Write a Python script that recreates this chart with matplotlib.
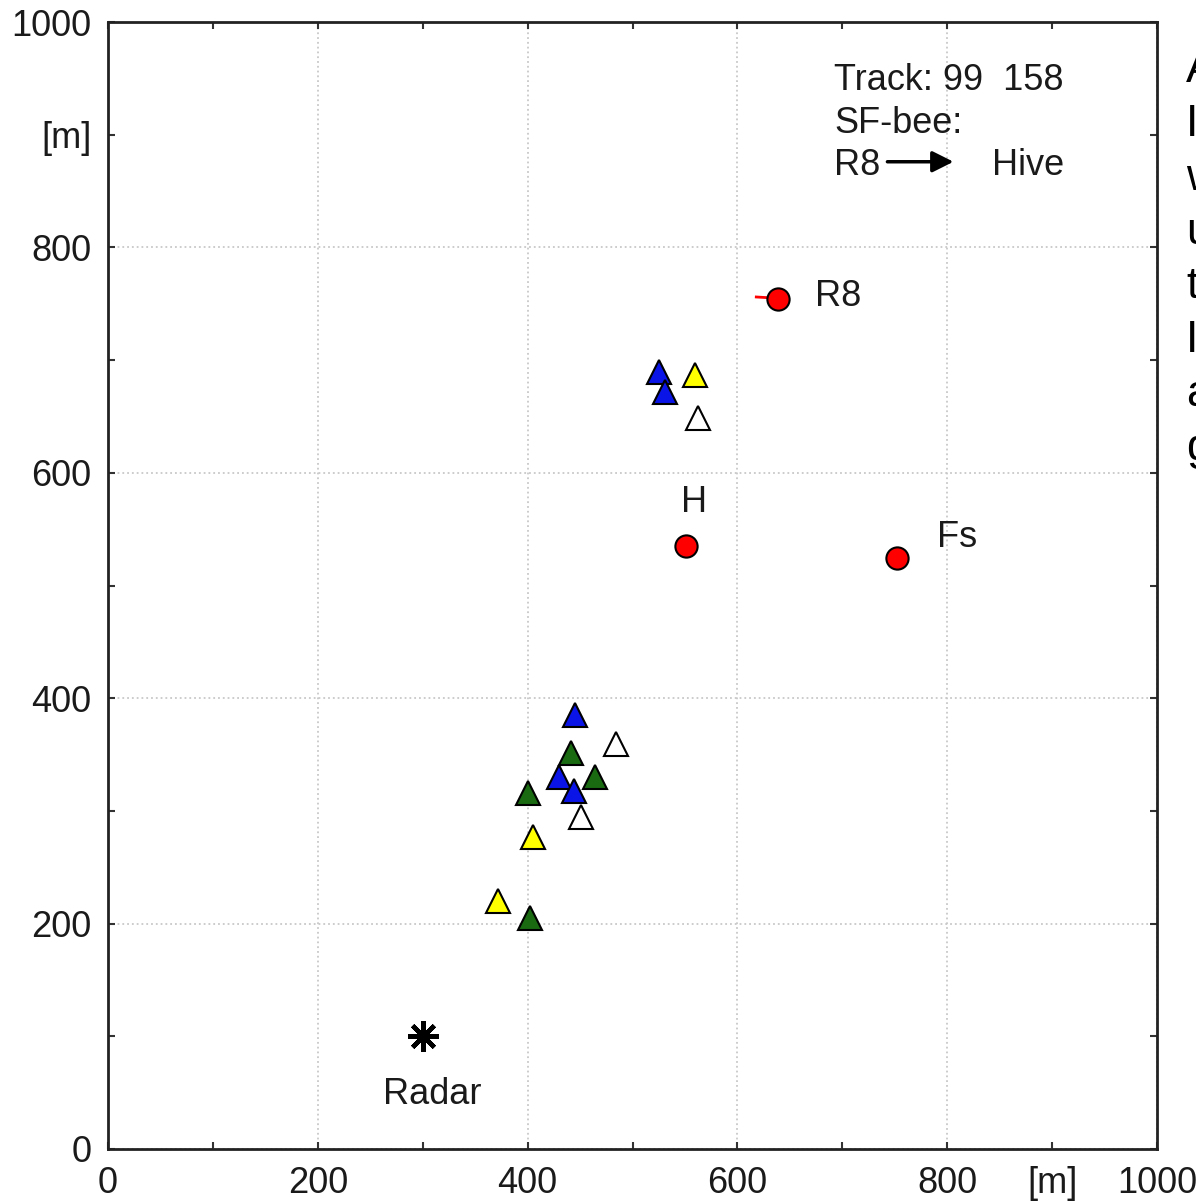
import matplotlib
matplotlib.use("Agg")
import matplotlib.pyplot as plt
from matplotlib.ticker import FixedLocator, FuncFormatter

plt.rcParams['font.family'] = ['Liberation Sans', 'DejaVu Sans']

# ---- data (metres) ----
blue_x = [525, 531, 445, 430, 444]
blue_y = [689, 672, 385, 330, 318]
green_x = [441, 464, 400, 402]
green_y = [351, 330, 316, 205]
yellow_x = [560, 405, 372]
yellow_y = [687, 277, 220]
white_x = [562, 484, 451]
white_y = [649, 359, 295]

site_names = ["R8", "H", "Fs"]
site_x = [639, 551, 752]
site_y = [754, 535, 524]

track_x = [618, 636]
track_y = [756, 755]

radar_x = [300]
radar_y = [100]

major_ticks = [0, 200, 400, 600, 800, 1000]
minor_ticks = [100, 300, 500, 700, 900]
unit_label = "[m]"

right_letters = ["A", "I", "w", "u", "t", "I", "a", "g"]

TXT = '#1a1a1a'
FS = 26

fig = plt.figure(figsize=(11.96, 12.04), dpi=100)
ax = fig.add_axes([108/1196, 1 - 1149/1204, (1157-108)/1196, (1149-22)/1204])

ax.set_xlim(0, 1000)
ax.set_ylim(0, 1000)

for axis in (ax.xaxis, ax.yaxis):
    axis.set_major_locator(FixedLocator(major_ticks))
    axis.set_minor_locator(FixedLocator(minor_ticks))
    axis.set_minor_formatter(FuncFormatter(lambda v, p: unit_label if abs(v - 900) < 1 else ''))

ax.tick_params(which='both', direction='in', top=True, right=True,
               length=5, width=1.5, color='#333333',
               labelsize=FS, labelcolor=TXT, pad=12)
for s in ax.spines.values():
    s.set_linewidth(2)
    s.set_color('#222222')

ax.grid(True, which='major', linestyle=':', color='#c8c8c8', linewidth=1.3)
ax.set_axisbelow(True)

# track segment
ax.plot(track_x, track_y, color='red', lw=2, zorder=3)

tri_kw = dict(marker='^', linestyle='none', markersize=17, markeredgecolor='black',
              markeredgewidth=1.5, zorder=4)
ax.plot(green_x, green_y, markerfacecolor='#1a6a12', **tri_kw)
ax.plot(blue_x, blue_y, markerfacecolor='#0a14e6', **tri_kw)
ax.plot(yellow_x, yellow_y, markerfacecolor='#ffff00', **tri_kw)
ax.plot(white_x, white_y, markerfacecolor='white', **tri_kw)

ax.plot(site_x, site_y, marker='o', linestyle='none', markersize=16,
        markerfacecolor='#ff0000', markeredgecolor='black', markeredgewidth=1.5, zorder=5)

ax.plot(radar_x, radar_y, marker=(8, 2, 0), linestyle='none', markersize=22,
        markeredgecolor='black', markeredgewidth=3.2, zorder=5)

# labels
ax.text(674, 756, site_names[0], fontsize=FS, color=TXT, ha='left', va='center')
ax.text(559, 574, site_names[1], fontsize=FS, color=TXT, ha='center', va='center')
ax.text(809, 543, site_names[2], fontsize=FS, color=TXT, ha='center', va='center')
ax.text(309, 48, "Radar", fontsize=FS, color=TXT, ha='center', va='center')

# info box text
ax.text(692, 948, "Track: 99  158", fontsize=FS, color=TXT, ha='left', va='center')
ax.text(692, 910, "SF-bee:", fontsize=FS, color=TXT, ha='left', va='center')
ax.text(692, 873, "R8", fontsize=FS, color=TXT, ha='left', va='center')
ax.text(843, 873, "Hive", fontsize=FS, color=TXT, ha='left', va='center')
ax.annotate("", xy=(806, 876), xytext=(743, 876),
            arrowprops=dict(arrowstyle='-|>', color='black', lw=2.5, mutation_scale=32,
                            shrinkA=0, shrinkB=0))

# cropped text at right edge
for i, letter in enumerate(right_letters):
    yb = 82 + 54 * i
    fig.text(1186/1196, 1 - yb/1204, letter, fontsize=32, color='black',
             ha='left', va='baseline')

fig.savefig("out.png", dpi=100)
